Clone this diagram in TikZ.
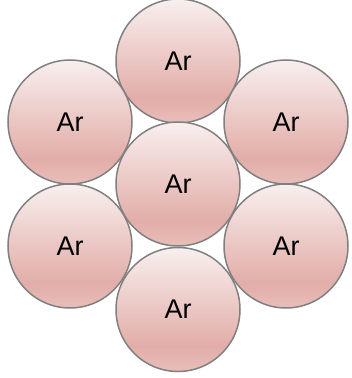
\documentclass[tikz,border=0pt]{standalone}
\usepackage{fontspec}
\setmainfont{Liberation Sans}
\definecolor{ptop}{RGB}{248,239,239}
\definecolor{pmid}{RGB}{226,173,168}
\definecolor{pbot}{RGB}{232,190,186}
\definecolor{rim}{RGB}{128,128,128}
\pgfdeclareverticalshading{ballshade}{100bp}{color(0bp)=(pbot); color(25bp)=(pbot); color(35bp)=(pmid); color(75bp)=(ptop); color(100bp)=(ptop)}
\tikzset{
  atom/.style={circle, draw=rim, line width=1.5pt, minimum size=124pt, inner sep=0pt,
    shading=ballshade, font=\fontsize{27}{27}\selectfont, text=black}
}
\begin{document}
\begin{tikzpicture}[x=1pt,y=1pt]
\useasboundingbox (0,0) rectangle (352,378);
\node[atom] (t)  at (178,{378-61}) {Ar};
\node[atom] (ul) at (70,{378-122}) {Ar};
\node[atom] (ur) at (286,{378-122}) {Ar};
\node[atom] (c)  at (178,{378-184}) {Ar};
\node[atom] (ll) at (70,{378-246}) {Ar};
\node[atom] (lr) at (286,{378-246}) {Ar};
\node[atom] (b)  at (178,{378-309.5}) {Ar};
\end{tikzpicture}
\end{document}
